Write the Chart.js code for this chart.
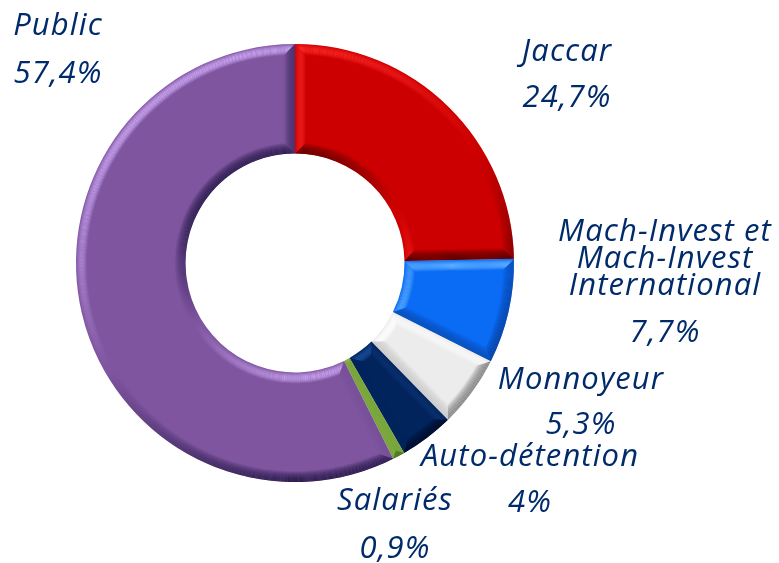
<!DOCTYPE html>
<html lang="fr">
<head>
<meta charset="utf-8">
<title>Actionnariat</title>
<style>
  html, body { margin: 0; padding: 0; background: #fff; }
  canvas { display: block; }
</style>
<script src="https://cdn.jsdelivr.net/npm/chart.js@4/dist/chart.umd.min.js"></script>
</head>
<body>
<canvas id="donut" width="779" height="563"></canvas>
<script>
'use strict';

// Data
const categories = ['Jaccar', 'Mach-Invest et\nMach-Invest\nInternational', 'Monnoyeur', 'Auto-détention', 'Salariés', 'Public'];
const shares = [24.7, 7.7, 5.3, 4, 0.9, 57.4];
const sliceColors = ['#cc0000', '#0a6cf5', '#ececec', '#02245c', '#7aa63c', '#7f55a0'];

// Bevel tints per slice
const lightTints = ['#ff2a2a', '#5fb0ff', '#ffffff', '#1f4f9a', '#a6d860', '#c9a4f0'];
const darkTints = ['#4a0000', '#0a3a90', '#707070', '#000a24', '#3f6a20', '#1e1440'];

// Label anchors, one per slice: centre x, baseline of each name line, baseline of the percentage
const labelX = [567, 665, 581, 530, 395, 58];
const labelNameY = [[61], [241, 268, 295], [389], [466], [510], [35]];
const labelValueY = [107, 342, 434, 512, 558, 83];
const labelFont = 'italic 31px "Open Sans"';
const labelSpacing = '1.1px';
const labelColor = '#002b6b';

const BEVEL = 11;      // bevel depth in px
const BEVEL_STEP = 1;  // thickness of one bevel layer
const LIGHT = { x: -0.5, y: -0.85 };

function clamp(v, lo, hi) {
  return lo > hi ? (lo + hi) / 2 : Math.min(hi, Math.max(lo, v));
}

// Rim of a slice as segments, each with its own outward normal
function sliceRim(arc) {
  const { startAngle: a0, endAngle: a1, innerRadius: r0, outerRadius: r1 } = arc;
  const rim = [];
  const n = Math.max(2, Math.ceil((a1 - a0) * 60));
  for (let i = 0; i < n; i++) {
    const a = a0 + (a1 - a0) * i / n;
    const b = a0 + (a1 - a0) * (i + 1) / n;
    const m = (a + b) / 2;
    rim.push({ from: [r1, a], to: [r1, b], nx: Math.cos(m), ny: Math.sin(m) });
    rim.push({ from: [r0, b], to: [r0, a], nx: -Math.cos(m), ny: -Math.sin(m) });
  }
  rim.push({ from: [r1, a1], to: [r0, a1], nx: -Math.sin(a1), ny: Math.cos(a1) });
  rim.push({ from: [r0, a0], to: [r1, a0], nx: Math.sin(a0), ny: -Math.cos(a0) });
  return rim;
}

function insetPoint(arc, sample, t) {
  const r = clamp(sample[0], arc.innerRadius + t, arc.outerRadius - t);
  const a = clamp(sample[1], arc.startAngle + t / r, arc.endAngle - t / r);
  return [arc.x + r * Math.cos(a), arc.y + r * Math.sin(a)];
}

// Shades the rim layer by layer, lit from the top left
const bevelPlugin = {
  id: 'bevel',
  afterDatasetDraw(chart) {
    const ctx = chart.ctx;
    ctx.save();
    chart.getDatasetMeta(0).data.forEach((el, index) => {
      const arc = el.getProps(['x', 'y', 'startAngle', 'endAngle', 'innerRadius', 'outerRadius']);
      const rim = sliceRim(arc);
      for (let t = 0; t < BEVEL; t += BEVEL_STEP) {
        const u = (t + 0.5) / BEVEL;
        const lightProfile = Math.sin(Math.PI * u);
        const darkProfile = 1 - u * u;
        rim.forEach(seg => {
          const shade = seg.nx * LIGHT.x + seg.ny * LIGHT.y;
          ctx.fillStyle = shade > 0 ? lightTints[index] : darkTints[index];
          ctx.globalAlpha = shade > 0
            ? Math.min(1, shade * 1.1) * lightProfile
            : Math.min(1, -shade * 1.2) * darkProfile * 0.85;
          const p1 = insetPoint(arc, seg.from, t);
          const p2 = insetPoint(arc, seg.to, t);
          const p3 = insetPoint(arc, seg.to, t + BEVEL_STEP);
          const p4 = insetPoint(arc, seg.from, t + BEVEL_STEP);
          ctx.beginPath();
          ctx.moveTo(p1[0], p1[1]);
          ctx.lineTo(p2[0], p2[1]);
          ctx.lineTo(p3[0], p3[1]);
          ctx.lineTo(p4[0], p4[1]);
          ctx.closePath();
          ctx.fill();
        });
      }
    });
    ctx.restore();
  }
};

const labelPlugin = {
  id: 'sliceLabels',
  afterDraw(chart) {
    const ctx = chart.ctx;
    ctx.save();
    ctx.font = labelFont;
    ctx.letterSpacing = labelSpacing;
    ctx.fillStyle = labelColor;
    ctx.textAlign = 'center';
    ctx.textBaseline = 'alphabetic';
    categories.forEach((name, i) => {
      name.split('\n').forEach((line, j) => ctx.fillText(line, labelX[i], labelNameY[i][j]));
      ctx.fillText(String(shares[i]).replace('.', ',') + '%', labelX[i], labelValueY[i]);
    });
    ctx.restore();
  }
};

new Chart(document.getElementById('donut').getContext('2d'), {
  type: 'doughnut',
  data: {
    labels: categories,
    datasets: [{
      data: shares,
      backgroundColor: sliceColors,
      borderWidth: 0
    }]
  },
  options: {
    responsive: false,
    animation: false,
    cutout: '50%',
    layout: { padding: { left: 76, right: 265, top: 44, bottom: 81 } },
    plugins: {
      legend: { display: false },
      tooltip: { enabled: false }
    }
  },
  plugins: [bevelPlugin, labelPlugin]
});
</script>
</body>
</html>
